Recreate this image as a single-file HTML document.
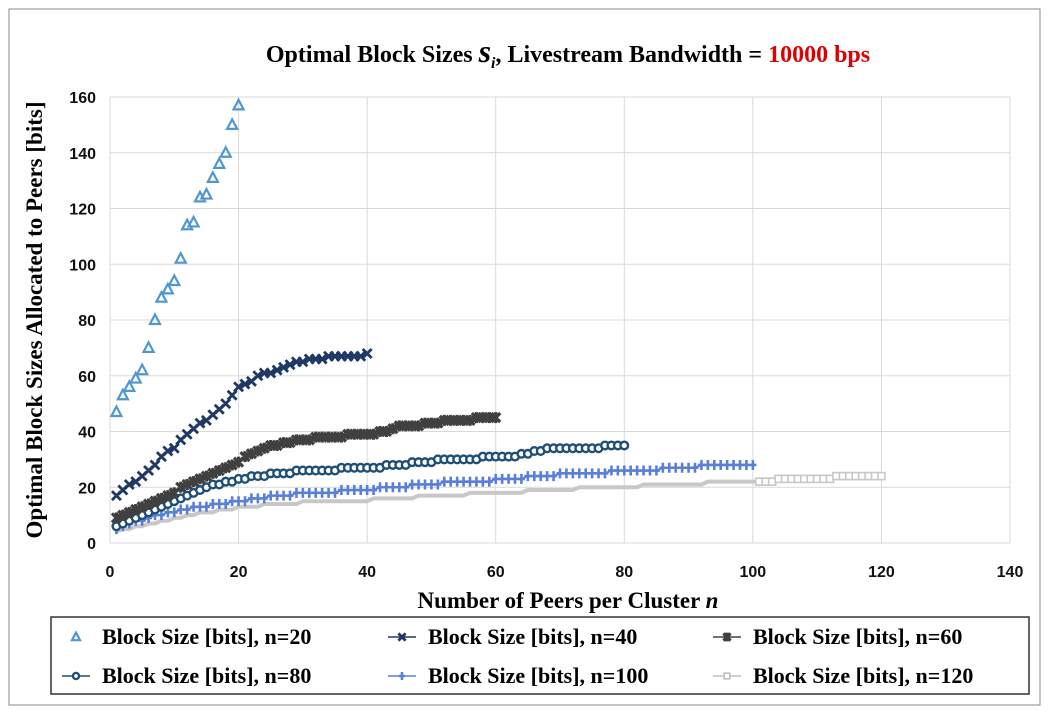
<!DOCTYPE html>
<html><head><meta charset="utf-8">
<style>
html,body{margin:0;padding:0;background:#fff;}
svg{display:block;}
</style></head>
<body>
<svg id="chart" width="1048" height="713" viewBox="0 0 1048 713">
  <rect x="9" y="9" width="1031" height="696" fill="#fff" stroke="#888" stroke-width="1"/>
  <text x="568" y="62" text-anchor="middle" font-family="Liberation Serif, serif" font-weight="bold" font-size="24" fill="#000">Optimal Block Sizes <tspan font-style="italic" font-size="32">s</tspan><tspan font-style="italic" font-size="16" dy="6">i</tspan><tspan dy="-6">, Livestream Bandwidth = </tspan><tspan fill="#e00000">10000 bps</tspan></text>
  <g id="grid"></g>
  <g id="ticks"></g>
  <g id="series"></g>
  <text x="568" y="608" text-anchor="middle" font-family="Liberation Serif, serif" font-weight="bold" font-size="23">Number of Peers per Cluster <tspan font-style="italic">n</tspan></text>
  <text transform="translate(42,320) rotate(-90)" text-anchor="middle" font-family="Liberation Serif, serif" font-weight="bold" font-size="23">Optimal Block Sizes Allocated to Peers [bits]</text>
  <g id="legend">
    <rect x="51" y="617" width="978" height="77" fill="#fff" stroke="#333" stroke-width="1.5"/>
  </g>
</svg>
<script>
const xTicks = [0,20,40,60,80,100,120,140];
const yTicks = [0,20,40,60,80,100,120,140,160];
const s20 = [47,53,56,59,62,70,80,88,91,94,102,114,115,124,125,131,136,140,150,157];
const s40 = [17,19,21,22,24,26,28,31,33,34, 37,39,41,43,44,46,48,50,53,56, 57,58,60,61,61,62,63,64,65,65, 66,66,66,67,67,67,67,67,67,68];
const s60 = [9,10,11,12,13,14,15,16,17,18, 20,21,22,23,24,25,26,27,28,29, 31,32,33,34,35,35,36,36,37,37, 37,38,38,38,38,38,39,39,39,39, 39,40,40,41,42,42,42,42,43,43, 43,44,44,44,44,44,45,45,45,45];
const s80 = [6,7,8,9,10,11,12,13,14,15, 16,17,18,19,20,21,21,22,22,23, 23,24,24,24,25,25,25,25,26,26, 26,26,26,26,26,27,27,27,27,27, 27,27,28,28,28,28,29,29,29,29, 30,30,30,30,30,30,30,31,31,31, 31,31,31,32,32,33,33,34,34,34, 34,34,34,34,34,34,35,35,35,35];
const s100 = [5,6,7,8,8,9,10,10,11,11, 12,12,13,13,13,14,14,14,15,15, 15,16,16,16,17,17,17,17,18,18, 18,18,18,18,18,19,19,19,19,19, 19,20,20,20,20,20,21,21,21,21, 21,22,22,22,22,22,22,22,22,23, 23,23,23,23,24,24,24,24,24,25, 25,25,25,25,25,25,25,26,26,26, 26,26,26,26,26,27,27,27,27,27, 27,28,28,28,28,28,28,28,28,28];
const s120 = [4,5,5,6,6,7,7,8,8,9, 9,10,10,11,11,11,12,12,12,13, 13,13,13,14,14,14,14,14,14,15, 15,15,15,15,15,15,15,15,15,15, 16,16,16,16,16,16,16,17,17,17, 17,17,17,17,17,18,18,18,18,18, 18,18,18,18,19,19,19,19,19,19, 19,19,20,20,20,20,20,20,20,20, 20,20,21,21,21,21,21,21,21,21, 21,21,22,22,22,22,22,22,22,22, 22,22,22,23,23,23,23,23,23,23, 23,23,24,24,24,24,24,24,24,24];
const legendLabels = ["Block Size [bits], n=20","Block Size [bits], n=40","Block Size [bits], n=60","Block Size [bits], n=80","Block Size [bits], n=100","Block Size [bits], n=120"];

const NS="http://www.w3.org/2000/svg";
const X0=110,X1=1010,Y0=543,Y1=97;
const xs=v=>X0+(v-0)/140*(X1-X0);
const ys=v=>Y0-(v-0)/160*(Y0-Y1);
function mk(tag,attrs,parent){const e=document.createElementNS(NS,tag);for(const k in attrs)e.setAttribute(k,attrs[k]);parent.appendChild(e);return e;}
const grid=document.getElementById('grid'),ticks=document.getElementById('ticks'),series=document.getElementById('series'),legend=document.getElementById('legend');

yTicks.forEach(t=>{
  const l=mk('line',{x1:X0,x2:X1,y1:ys(t),y2:ys(t),stroke:'#d9d9d9','stroke-width':1},grid);
  
  
  const tx=mk('text',{x:X0-14,y:ys(t)+6,'text-anchor':'end','font-family':'Liberation Sans, sans-serif','font-weight':'bold','font-size':16,fill:'#111'},ticks);
  tx.textContent=t;
  
  
});
xTicks.forEach(t=>{
  const l=mk('line',{x1:xs(t),x2:xs(t),y1:Y1,y2:Y0,stroke:'#d9d9d9','stroke-width':1},grid);
  
  
  const tx=mk('text',{x:xs(t),y:Y0+34,'text-anchor':'middle','font-family':'Liberation Sans, sans-serif','font-weight':'bold','font-size':16,fill:'#111'},ticks);
  tx.textContent=t;
  
  
});

function marker(type,x,y,color,parent,sz){
  sz=sz||1;
  let e;
  if(type==='tri'){e=mk('path',{d:`M${x},${y-5.5*sz}L${x+5*sz},${y+4*sz}L${x-5*sz},${y+4*sz}Z`,fill:'none',stroke:color,'stroke-width':2.2},parent);}
  else if(type==='x'){e=mk('path',{d:`M${x-4.5*sz},${y-4.5*sz}L${x+4.5*sz},${y+4.5*sz}M${x-4.5*sz},${y+4.5*sz}L${x+4.5*sz},${y-4.5*sz}`,stroke:color,'stroke-width':2.8},parent);}
  else if(type==='star'){e=mk('path',{d:`M${x-4.5*sz},${y-4.5*sz}L${x+4.5*sz},${y+4.5*sz}M${x-4.5*sz},${y+4.5*sz}L${x+4.5*sz},${y-4.5*sz}M${x},${y-5.5*sz}L${x},${y+5.5*sz}`,stroke:color,'stroke-width':3.2},parent);}
  else if(type==='circ'){e=mk('circle',{cx:x,cy:y,r:3.8*sz,fill:'#fff',stroke:color,'stroke-width':2.4},parent);}
  else if(type==='plus'){e=mk('path',{d:`M${x-3.5*sz},${y}L${x+3.5*sz},${y}M${x},${y-5*sz}L${x},${y+5*sz}`,stroke:color,'stroke-width':2.6},parent);}
  else {e=mk('rect',{x:x-3.5*sz,y:y-3.5*sz,width:7*sz,height:7*sz,fill:'#fff',stroke:color,'stroke-width':1.6},parent);}
  return e;
}

const defs=[
  {data:s120,type:'sq',color:'#c8c8c8',name:'series-n120'},
  {data:s100,type:'plus',color:'#5a7fd8',name:'series-n100'},
  {data:s80,type:'circ',color:'#1f4e79',name:'series-n80'},
  {data:s60,type:'star',color:'#404040',name:'series-n60'},
  {data:s40,type:'x',color:'#1f3864',name:'series-n40'},
  {data:s20,type:'tri',color:'#4f97d3',name:'series-n20'}
];
defs.forEach(d=>{
  const g=mk('g',{},series);
  
  
  const pts=d.data.map((v,i)=>xs(i+1)+','+ys(v)).join(' ');
  if(d.type!=='tri'){
    const pl=mk('polyline',{points:pts,fill:'none',stroke:d.color,'stroke-width':d.type==='sq'?4:2},g);
    
    
  }
  d.data.forEach((v,i)=>{
    if(d.type==='sq' && i<100) return;
    const m=marker(d.type,xs(i+1),ys(v),d.color,g);
    
    
  });
});

const legOrder=[
  {type:'tri',color:'#4f97d3'},{type:'x',color:'#1f3864'},{type:'star',color:'#404040'},
  {type:'circ',color:'#1f4e79'},{type:'plus',color:'#5a7fd8'},{type:'sq',color:'#bfbfbf'}
];
const colX=[62,388,713],rowY=[637,676];
legendLabels.forEach((lab,i)=>{
  const cx=colX[i%3],cy=rowY[Math.floor(i/3)];
  const g=mk('g',{},legend);
  
  
  const o=legOrder[i];
  if(o.type!=='tri'){const ln=mk('line',{x1:cx,x2:cx+28,y1:cy,y2:cy,stroke:o.color,'stroke-width':1.5},g);
    
    }
  const m=marker(o.type,cx+14,cy,o.color,g,0.8);
  
  
  const t=mk('text',{x:cx+40,y:cy+7,'font-family':'Liberation Serif, serif','font-weight':'bold','font-size':22,fill:'#000'},g);
  t.textContent=lab;
  
  
});
</script>
</body></html>
